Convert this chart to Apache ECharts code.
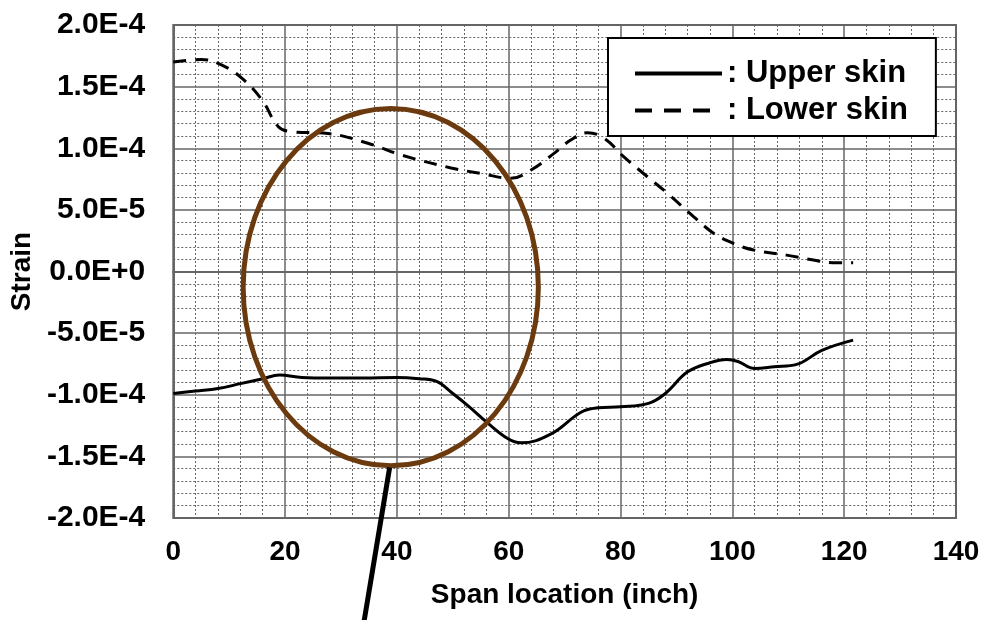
<!DOCTYPE html>
<html>
<head>
<meta charset="utf-8">
<script src="https://cdn.jsdelivr.net/npm/echarts@6/dist/echarts.min.js"></script>
<style>
  html, body { margin: 0; padding: 0; background: #fff; }
  #chart { width: 987px; height: 620px; }
</style>
</head>
<body>
<div id="chart"></div>
<script>
// span location (inch) and strain for each skin
const upperX = [0, 4, 8, 12, 16, 19, 23, 28, 34, 40, 44, 47, 50, 53, 56, 59.8, 62.2, 67.5, 73, 76, 80, 85, 88, 92, 96, 99, 101, 104, 107.5, 111.5, 116, 121.6];
const upperY = [-9.9e-5, -9.7e-5, -9.5e-5, -9.1e-5, -8.7e-5, -8.4e-5, -8.6e-5, -8.65e-5, -8.65e-5, -8.6e-5, -8.7e-5, -8.9e-5, -9.9e-5, -1.1e-4, -1.22e-4, -1.355e-4, -1.39e-4, -1.32e-4, -1.14e-4, -1.106e-4, -1.098e-4, -1.07e-4, -9.9e-5, -8.14e-5, -7.4e-5, -7.14e-5, -7.3e-5, -7.87e-5, -7.73e-5, -7.54e-5, -6.4e-5, -5.57e-5];

const lowerX = [0, 5, 8.7, 12.3, 15.9, 18.8, 21.2, 27.7, 35.5, 40.8, 49.7, 55, 60.4, 64, 68.1, 71.1, 74.1, 77.1, 80.6, 84.8, 88.4, 93.1, 96.7, 100.2, 103.8, 109.7, 114.5, 118, 121.6];
const lowerY = [1.70e-4, 1.72e-4, 1.675e-4, 1.567e-4, 1.39e-4, 1.175e-4, 1.134e-4, 1.12e-4, 1.03e-4, 9.45e-5, 8.4e-5, 7.96e-5, 7.56e-5, 8.23e-5, 9.58e-5, 1.067e-4, 1.126e-4, 1.08e-4, 9.3e-5, 7.69e-5, 6.34e-5, 4.44e-5, 3.09e-5, 2.28e-5, 1.74e-5, 1.33e-5, 9.3e-6, 7.1e-6, 7.1e-6];

const seriesNames = ['Upper skin', 'Lower skin'];

// annotation: ellipse [cx, cy, rx, ry] and pointer [x1, y1, x2, y2], in data units
const ellipseSpec = [38.9, -1.27e-5, 26.4, 1.45e-4];
const pointerSpec = [38.7, -1.59e-4, 33.9, -2.9e-4];

const font = 'Arial, "Liberation Sans", sans-serif';

function pairs(xs, ys) {
    return xs.map(function (x, i) { return [x, ys[i]]; });
}

let myChart = echarts.init(document.getElementById('chart'));

let option = {
    animation: false,
    backgroundColor: '#fff',
    textStyle: { fontFamily: font },
    grid: {
        left: 171, right: 31, top: 25, bottom: 102,
        show: true, borderColor: '#666', borderWidth: 2
    },
    legend: {
        data: [
            { name: seriesNames[0], lineStyle: { width: 4, type: 'solid' } },
            { name: seriesNames[1], lineStyle: { width: 4, type: [17, 12] } }
        ],
        orient: 'vertical',
        left: 608, top: 38,
        backgroundColor: '#fff',
        borderColor: '#000', borderWidth: 2,
        padding: [20, 28, 10, 25],
        itemWidth: 87, itemHeight: 14, itemGap: 6,
        itemStyle: { opacity: 0 },
        lineStyle: { width: 4 },
        formatter: function (name) { return ': ' + name; },
        textStyle: { fontSize: 31, fontWeight: 'bold', color: '#000', fontFamily: font }
    },
    xAxis: {
        type: 'value',
        min: 0, max: 140, interval: 20,
        name: 'Span location (inch)',
        nameLocation: 'middle', nameGap: 63,
        nameTextStyle: { fontSize: 28, fontWeight: 'bold', color: '#000' },
        axisLine: { show: true, lineStyle: { color: '#666', width: 2 } },
        axisTick: { show: false },
        axisLabel: { fontSize: 28, fontWeight: 'bold', color: '#000', margin: 20 },
        splitLine: { show: true, lineStyle: { color: '#666', width: 1.5 } },
        minorSplitLine: { show: true, lineStyle: { color: '#666', width: 1, type: [2, 2] } }
    },
    yAxis: {
        type: 'value',
        min: -2e-4, max: 2e-4, interval: 5e-5,
        name: 'Strain',
        nameLocation: 'middle', nameGap: 136,
        nameTextStyle: { fontSize: 28, fontWeight: 'bold', color: '#000' },
        axisLine: { show: true, lineStyle: { color: '#666', width: 2 } },
        axisTick: { show: false },
        axisLabel: {
            fontSize: 30, fontWeight: 'bold', color: '#000', margin: 28,
            formatter: function (v) { return v.toExponential(1).toUpperCase(); }
        },
        splitLine: { show: true, lineStyle: { color: '#666', width: 1.5 } },
        minorSplitLine: { show: true, lineStyle: { color: '#666', width: 1, type: [2, 2] } }
    },
    series: [
        {
            name: seriesNames[0],
            type: 'line',
            data: pairs(upperX, upperY),
            smooth: 0.4,
            symbol: 'none',
            lineStyle: { color: '#000', width: 3, type: 'solid' },
            itemStyle: { color: '#000' },
            z: 3
        },
        {
            name: seriesNames[1],
            type: 'line',
            data: pairs(lowerX, lowerY),
            smooth: 0.4,
            symbol: 'none',
            lineStyle: { color: '#000', width: 3, type: [13, 9] },
            itemStyle: { color: '#000' },
            z: 3
        },
        {
            type: 'custom',
            silent: true,
            clip: false,
            z: 5,
            data: [ellipseSpec],
            renderItem: function (params, api) {
                let c = api.coord([api.value(0), api.value(1)]);
                let s = api.size([api.value(2), api.value(3)]);
                return {
                    type: 'ellipse',
                    shape: { cx: c[0], cy: c[1], rx: s[0], ry: s[1] },
                    style: { fill: 'none', stroke: '#6B3A0E', lineWidth: 5 }
                };
            }
        },
        {
            type: 'custom',
            silent: true,
            clip: false,
            z: 5,
            data: [pointerSpec],
            renderItem: function (params, api) {
                let a = api.coord([api.value(0), api.value(1)]);
                let b = api.coord([api.value(2), api.value(3)]);
                return {
                    type: 'line',
                    shape: { x1: a[0], y1: a[1], x2: b[0], y2: b[1] },
                    style: { stroke: '#000', lineWidth: 5 }
                };
            }
        }
    ]
};

myChart.setOption(option);
</script>
</body>
</html>
